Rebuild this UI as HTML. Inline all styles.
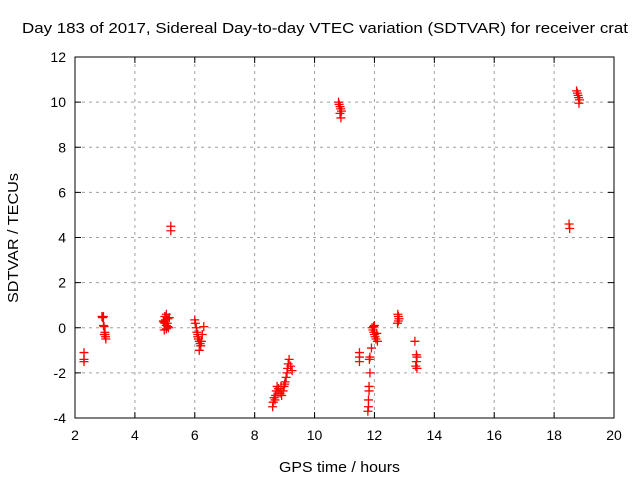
<!DOCTYPE html>
<html><head><meta charset="utf-8"><style>body{margin:0;background:#fff}svg{display:block;font-family:"Liberation Sans",sans-serif}</style></head>
<body>
<svg id="c" width="640" height="480">
<text x="22" y="33" font-size="14.5" textLength="606" lengthAdjust="spacingAndGlyphs">Day 183 of 2017, Sidereal Day-to-day VTEC variation (SDTVAR) for receiver crat</text>
<g id="grid"></g>
<g id="axes"></g>
<g id="pts"></g>
<text x="279" y="472" font-size="14.5" textLength="121" lengthAdjust="spacingAndGlyphs">GPS time / hours</text>
<text transform="translate(18,303) rotate(-90)" font-size="14.5" textLength="130" lengthAdjust="spacingAndGlyphs">SDTVAR / TECUs</text>
</svg>
<script>
const xTicks=[2,4,6,8,10,12,14,16,18,20];
const yTicks=[-4,-2,0,2,4,6,8,10,12];
const times=[2.3,2.3,2.3,
2.9,2.92,2.95,2.95,2.97,3.0,3.0,3.02,3.03,2.98,
4.95,5.0,5.05,5.1,5.0,5.05,5.12,4.98,5.08,5.02,5.15,5.1,5.05,4.97,5.2,5.2,
6.0,6.02,6.05,6.07,6.1,6.12,6.15,6.18,6.2,6.15,6.1,6.22,6.3,6.25,
8.6,8.62,8.65,8.7,8.72,8.75,8.8,8.85,8.9,8.95,8.98,9.0,9.02,9.05,9.08,9.1,9.12,9.15,9.2,9.25,8.68,8.78,8.88,
10.8,10.82,10.85,10.87,10.9,10.85,10.88,
11.5,11.5,11.5,
11.78,11.8,11.8,11.82,11.82,11.85,11.83,11.85,11.9,
11.92,11.95,11.98,12.0,12.02,12.05,12.1,12.0,11.97,12.08,
12.78,12.8,12.82,12.8,12.77,
13.35,13.4,13.42,13.4,13.38,13.42,
18.5,18.52,18.75,18.78,18.8,18.82,18.85,18.83];
const values=[-1.1,-1.4,-1.5,
0.5,0.45,0.5,0.1,0.05,-0.2,-0.3,-0.4,-0.5,-0.3,
0.3,0.5,0.6,0.4,0.2,0.1,0.0,-0.1,0.2,0.35,0.45,0.05,-0.05,0.25,4.5,4.3,
0.35,0.2,0.0,-0.2,-0.3,-0.5,-0.6,-0.7,-0.8,-1.0,-0.4,-0.6,0.05,-0.3,
-3.5,-3.3,-3.1,-3.0,-2.8,-2.6,-2.7,-2.9,-3.0,-2.8,-2.6,-2.5,-2.4,-2.2,-2.0,-1.8,-1.6,-1.4,-1.7,-1.9,-3.2,-2.9,-2.6,
10.0,9.9,9.8,9.7,9.6,9.5,9.3,
-1.1,-1.3,-1.5,
-3.7,-3.5,-3.2,-2.8,-2.6,-2.0,-1.4,-1.3,-0.9,
0.0,-0.1,-0.2,-0.3,-0.4,-0.5,-0.6,0.1,0.05,-0.25,
0.6,0.5,0.4,0.3,0.2,
-0.6,-1.2,-1.3,-1.5,-1.7,-1.8,
4.6,4.4,10.5,10.4,10.3,10.2,10.1,9.95];
const L=75,R=614,T=57,B=418;
const sx=v=>L+(v-2)/18*(R-L), sy=v=>B-(v+4)/16*(B-T);
const NS="http://www.w3.org/2000/svg";
function mk(t,a,p){const e=document.createElementNS(NS,t);for(const k in a)e.setAttribute(k,a[k]);p.appendChild(e);return e;}
const grid=document.getElementById('grid'),axes=document.getElementById('axes'),pts=document.getElementById('pts');
xTicks.forEach(v=>{const x=sx(v);
 if(v>2&&v<20){const g=mk('line',{x1:x,x2:x,y1:T,y2:B,stroke:'#a0a0a0','stroke-dasharray':'3,4'},grid);}
 mk('line',{x1:x,x2:x,y1:B,y2:B-6,stroke:'#000'},axes);mk('line',{x1:x,x2:x,y1:T,y2:T+6,stroke:'#000'},axes);
 const t=mk('text',{x:x,y:B+22,'font-size':14,'text-anchor':'middle'},axes);t.textContent=v;
 });
yTicks.forEach(v=>{const y=sy(v);
 if(v>-4&&v<12){const g=mk('line',{x1:L,x2:R,y1:y,y2:y,stroke:'#a0a0a0','stroke-dasharray':'3,4'},grid);}
 mk('line',{x1:L,x2:L+6,y1:y,y2:y,stroke:'#000'},axes);mk('line',{x1:R,x2:R-6,y1:y,y2:y,stroke:'#000'},axes);
 const t=mk('text',{x:L-9,y:y+5,'font-size':14,'text-anchor':'end'},axes);t.textContent=v;
 });
mk('rect',{x:L,y:T,width:R-L,height:B-T,fill:'none',stroke:'#000'},axes);
times.forEach((t,i)=>{const x=sx(t),y=sy(values[i]);
 const p=mk('path',{d:`M${x-4.5} ${y}H${x+4.5}M${x} ${y-4.5}V${y+4.5}`,stroke:'#f00','stroke-width':1.3},pts);
 });
</script>
</body></html>
